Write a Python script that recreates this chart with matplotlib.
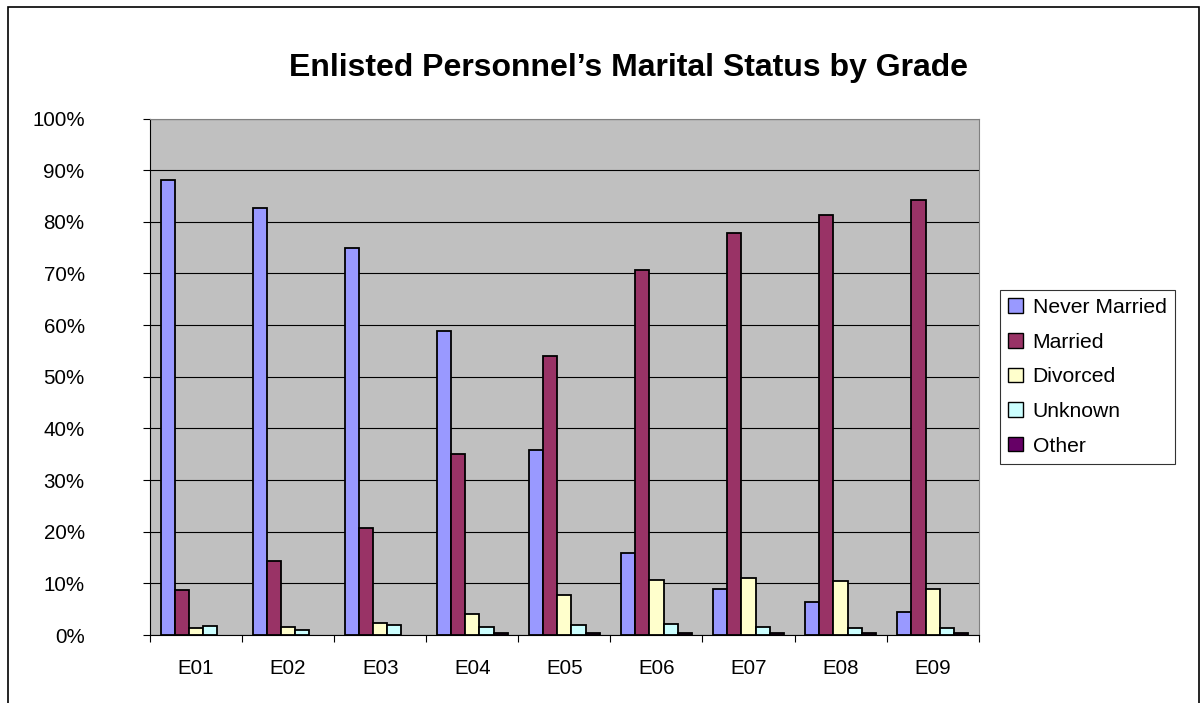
import numpy as np
import matplotlib
matplotlib.use("Agg")
import matplotlib.pyplot as plt
from matplotlib.patches import Rectangle
from matplotlib.ticker import FixedLocator, PercentFormatter

plt.rcParams['font.family'] = ['Liberation Sans', 'DejaVu Sans']

grades = ['E01', 'E02', 'E03', 'E04', 'E05', 'E06', 'E07', 'E08', 'E09']
never_married = [88.1, 82.6, 74.9, 58.9, 35.8, 15.9, 9.0, 6.4, 4.5]
married = [8.8, 14.4, 20.8, 35.1, 54.0, 70.6, 77.8, 81.3, 84.2]
divorced = [1.3, 1.6, 2.3, 4.1, 7.7, 10.6, 11.0, 10.4, 9.0]
unknown = [1.7, 1.0, 1.9, 1.6, 1.9, 2.2, 1.6, 1.3, 1.3]
other = [0.0, 0.0, 0.0, 0.3, 0.3, 0.3, 0.3, 0.3, 0.3]

series = [
    ('Never Married', never_married, '#9999FF'),
    ('Married', married, '#993366'),
    ('Divorced', divorced, '#FFFFCC'),
    ('Unknown', unknown, '#CCFFFF'),
    ('Other', other, '#660066'),
]

fig = plt.figure(figsize=(12.02, 7.03), dpi=100)
ax = fig.add_axes([0.1248, 0.0967, 0.6894, 0.7347])
ax.set_facecolor('#C0C0C0')

x = np.arange(len(grades))
w = 0.154
for i, (name, vals, col) in enumerate(series):
    bars = ax.bar(x + (i - 2) * w, vals, w, color=col, edgecolor='black',
                  linewidth=1.3, label=name, zorder=3)
    # zero values draw nothing, like in the original
    for b, v in zip(bars, vals):
        if v == 0:
            b.set_visible(False)

ax.set_xlim(-0.5, len(grades) - 0.5)
ax.set_ylim(0, 100)
ax.set_yticks(np.arange(0, 101, 10))
ax.yaxis.set_major_formatter(PercentFormatter(decimals=0))
ax.grid(axis='y', color='black', linewidth=0.8, zorder=1)

# category labels at centres, tick marks on the boundaries
ax.set_xticks(x)
ax.set_xticklabels(grades)
ax.xaxis.set_minor_locator(FixedLocator(np.arange(-0.5, len(grades), 1)))
ax.tick_params(axis='x', which='major', length=0, pad=17, labelsize=14.8)
ax.tick_params(axis='x', which='minor', length=5, width=0.8, direction='out')
ax.tick_params(axis='y', length=5, width=0.8, direction='out', pad=42,
               labelsize=14.8)

for s in ['left', 'bottom']:
    ax.spines[s].set_color('black')
    ax.spines[s].set_linewidth(0.8)
for s in ['top', 'right']:
    ax.spines[s].set_color('#808080')
    ax.spines[s].set_linewidth(0.8)

fig.text(0.5225, 0.9033, 'Enlisted Personnel\u2019s Marital Status by Grade',
         ha='center', va='center', fontsize=23, fontweight='bold')

leg = ax.legend(loc='center left', bbox_to_anchor=(1.0, 0.5), frameon=True,
                fancybox=False, shadow=False, fontsize=15.2, handlelength=0.68,
                handleheight=0.68, handletextpad=0.48, labelspacing=0.74,
                borderpad=0.4, borderaxespad=1.0)
leg.get_frame().set_edgecolor('black')
leg.get_frame().set_linewidth(0.8)
for h in leg.legend_handles:
    h.set_linewidth(1.0)
    h.set_visible(True)

# outer chart border (bottom edge lies outside the picture)
fig.patches.append(Rectangle((7.5 / 1202, -0.05), (1199 - 7.5) / 1202,
                             1.05 - 6.5 / 703, transform=fig.transFigure,
                             fill=False, edgecolor='black', linewidth=1.2))

fig.savefig('out.png', dpi=100, facecolor='white')
